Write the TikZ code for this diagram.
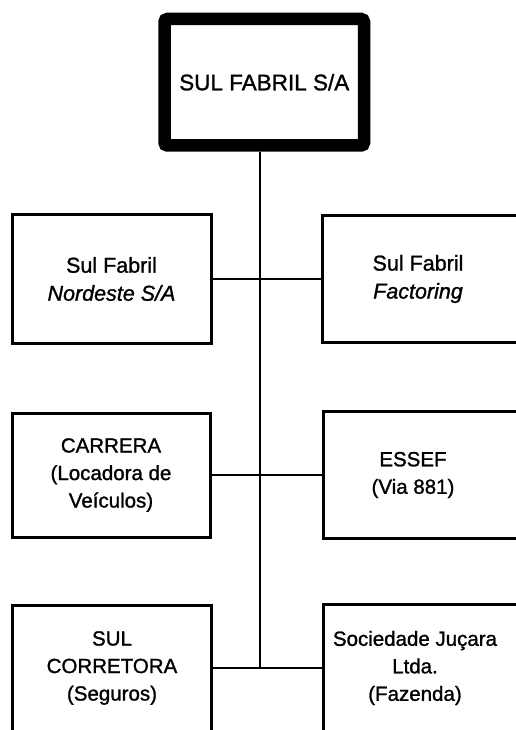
\documentclass[tikz,border=0pt]{standalone}
\usepackage{fontspec}
\setmainfont{Liberation Sans}[FakeBold=1.2, ItalicFeatures={FakeBold=1.2}]
\begin{document}
\begin{tikzpicture}[x=1pt,y=-1pt,
  box/.style={draw=black, line width=3pt, rectangle, align=center, inner sep=0pt, line join=miter},
  openbox/.style={rectangle, align=center, inner sep=0pt},
  frame/.style={line width=3pt, line join=miter},
  link/.style={line width=1.2pt},
  txtA/.style={font=\fontsize{21.5}{28}\selectfont},
  txtB/.style={font=\fontsize{20.5}{27.5}\selectfont}
]
\useasboundingbox (0,0) rectangle (516,730);
\fill[white] (0,0) rectangle (516,730);
\coordinate (redge) at (516,0);
\coordinate (j3) at (260,668);

\node[box, line width=12.5pt, rounded corners=3pt, minimum width=199.5pt, minimum height=126.5pt,
      font=\fontsize{22.5}{27}\selectfont] (top) at (264.25,82.25) {SUL FABRIL S/A};

% row 1
\node[box, txtA, minimum width=199pt, minimum height=129pt] (sfn) at (111.5,279) {Sul Fabril\\\textit{Nordeste S/A}};
\node[openbox, txtA, minimum width=190pt, minimum height=127pt] (sff) at (418,279) {Sul Fabril\\\textit{Factoring}};
\draw[frame] (redge |- sff.north) -- (sff.north west) -- (sff.south west) -- (redge |- sff.south);

% row 2
\node[box, txtB, minimum width=198pt, minimum height=124pt] (car) at (111,475) {CARRERA\\(Locadora de\\Veículos)};
\node[openbox, txtB, minimum width=178pt, minimum height=126pt] (ess) at (413,475) {ESSEF\\(Via 881)};
\draw[frame] (redge |- ess.north) -- (ess.north west) -- (ess.south west) -- (redge |- ess.south);

% row 3
\node[openbox, txtB, minimum width=198pt, minimum height=124pt] (sc) at (112,668) {SUL\\CORRETORA\\(Seguros)};
\draw[frame] (sc.south west) -- (sc.north west) -- (sc.north east) -- (sc.south east);
\node[openbox, txtB, minimum width=182pt, minimum height=126pt] (sj) at (415,668) {Sociedade Juçara\\Ltda.\\(Fazenda)};
\draw[frame] (sj.south west) -- (sj.north west) -- (redge |- sj.north);

% connectors
\draw[link] (top.south -| j3) -- (j3);
\draw[link] (sfn.east) -- (sff.west);
\draw[link] (car.east) -- (ess.west);
\draw[link] (sc.east) -- (sj.west);
\end{tikzpicture}
\end{document}
